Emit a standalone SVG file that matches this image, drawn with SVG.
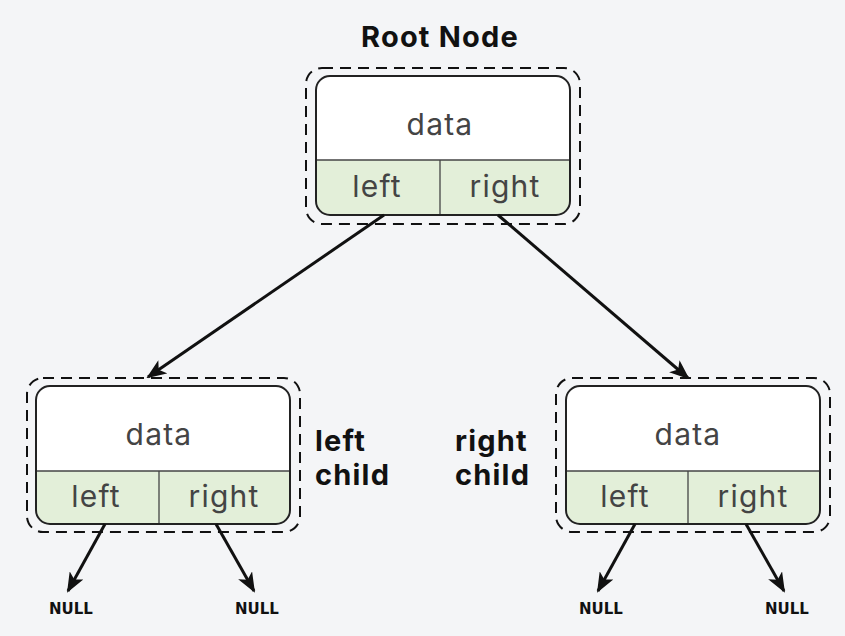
<svg xmlns="http://www.w3.org/2000/svg" width="845" height="636" viewBox="0 0 845 636">
<defs>
<style>
.bg{fill:#f4f5f7}
.cell{fill:#e3efd9}
.div{stroke:#444;stroke-width:1.3}
.dash{fill:none;stroke:#111;stroke-width:2;stroke-dasharray:11 7}
.t{font-family:Inter,"Noto Sans",sans-serif;font-size:30px;letter-spacing:1.2px;fill:#444;text-anchor:middle}
.lab{font-family:Inter,"Noto Sans",sans-serif;font-size:29px;letter-spacing:1.2px;font-weight:700;fill:#111}
.null{font-family:"DejaVu Sans",sans-serif;font-size:15px;font-weight:700;fill:#111;text-anchor:middle}
.edge{stroke:#111;stroke-width:3;fill:none;marker-end:url(#ah)}
</style>
<marker id="ah" viewBox="0 0 20 16" refX="18" refY="8" markerWidth="20" markerHeight="16" markerUnits="userSpaceOnUse" orient="auto">
<path d="M0,0 L20,8 L0,16 L5,8 Z" fill="#111"/>
</marker>
</defs>
<rect class="bg" x="0" y="0" width="845" height="636"/>
<text class="lab" x="440" y="47" text-anchor="middle" font-size="29">Root Node</text>

<g id="root">
<rect class="dash" x="306" y="68" width="274" height="156" rx="16"/>
<rect x="316" y="76" width="254" height="139" rx="14" fill="#fff"/>
<path class="cell" d="M317,160 H569 V201 a13,13 0 0 1 -13,13 H330 a13,13 0 0 1 -13,-13 Z"/>
<line class="div" x1="317" y1="160" x2="569" y2="160"/>
<line class="div" x1="440" y1="160" x2="440" y2="214"/>
<rect x="316" y="76" width="254" height="139" rx="14" fill="none" stroke="#222" stroke-width="2"/>
<text class="t" x="440" y="135">data</text>
<text class="t" x="377" y="197">left</text>
<text class="t" x="505" y="197">right</text>
</g>

<g id="leftchild">
<rect class="dash" x="27" y="378" width="273" height="154" rx="16"/>
<rect x="36" y="386" width="254" height="138" rx="14" fill="#fff"/>
<path class="cell" d="M37,471 H289 V510 a13,13 0 0 1 -13,13 H50 a13,13 0 0 1 -13,-13 Z"/>
<line class="div" x1="37" y1="471" x2="289" y2="471"/>
<line class="div" x1="159" y1="471" x2="159" y2="523"/>
<rect x="36" y="386" width="254" height="138" rx="14" fill="none" stroke="#222" stroke-width="2"/>
<text class="t" x="159" y="445">data</text>
<text class="t" x="96" y="507">left</text>
<text class="t" x="224" y="507">right</text>
<text class="lab" x="315" y="451">left</text>
<text class="lab" x="315" y="485">child</text>
</g>

<g id="rightchild">
<rect class="dash" x="556" y="378" width="274" height="154" rx="16"/>
<rect x="566" y="386" width="254" height="138" rx="14" fill="#fff"/>
<path class="cell" d="M567,471 H819 V510 a13,13 0 0 1 -13,13 H580 a13,13 0 0 1 -13,-13 Z"/>
<line class="div" x1="567" y1="471" x2="819" y2="471"/>
<line class="div" x1="688" y1="471" x2="688" y2="523"/>
<rect x="566" y="386" width="254" height="138" rx="14" fill="none" stroke="#222" stroke-width="2"/>
<text class="t" x="688" y="445">data</text>
<text class="t" x="625" y="507">left</text>
<text class="t" x="753" y="507">right</text>
<text class="lab" x="455" y="451">right</text>
<text class="lab" x="455" y="485">child</text>
</g>

<g id="nulls">
<text class="null" x="71" y="614">NULL</text>
<text class="null" x="257" y="614">NULL</text>
<text class="null" x="601" y="614">NULL</text>
<text class="null" x="787" y="614">NULL</text>
</g>

<g id="connectors">
<line class="edge" x1="384" y1="215" x2="148" y2="377"/>
<line class="edge" x1="498" y1="215" x2="688" y2="378"/>
<line class="edge" x1="105" y1="524" x2="68" y2="591"/>
<line class="edge" x1="216" y1="524" x2="254" y2="591"/>
<line class="edge" x1="635" y1="524" x2="598" y2="591"/>
<line class="edge" x1="746" y1="524" x2="784" y2="591"/>
</g>
</svg>
